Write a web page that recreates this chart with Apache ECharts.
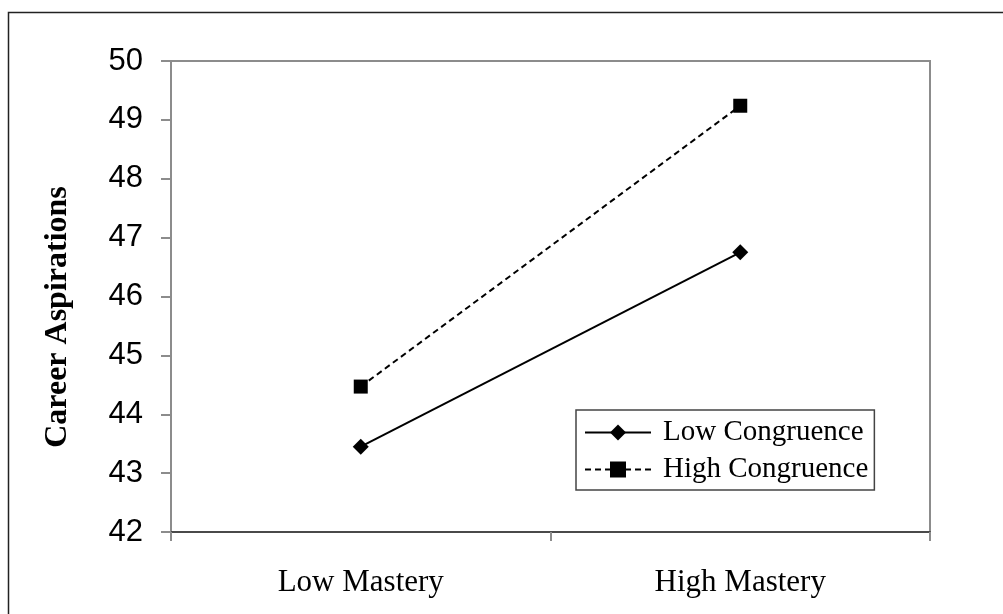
<!DOCTYPE html>
<html>
<head>
<meta charset="utf-8">
<script src="https://cdn.jsdelivr.net/npm/echarts@6/dist/echarts.min.js"></script>
<style>
  html, body { margin: 0; padding: 0; background: #fff; }
  #chart { width: 1003px; height: 614px; }
</style>
</head>
<body>
<div id="chart"></div>
<script>
// Mastery conditions on the x axis
const categories = ['Low Mastery', 'High Mastery'];
// Mean career aspirations for each congruence group
const lowCongruence = [43.45, 46.75];
const highCongruence = [44.47, 49.24];
const seriesNames = ['Low Congruence', 'High Congruence'];
const yTitle = 'Career Aspirations';

const serif = '"Liberation Serif", "Times New Roman", serif';
const sans = '"Liberation Sans", Arial, sans-serif';

const chart = echarts.init(document.getElementById('chart'), null, { renderer: 'canvas' });

chart.setOption({
  animation: false,
  backgroundColor: '#fff',
  graphic: [
    {
      type: 'rect',
      shape: { x: 8.5, y: 12.5, width: 1100, height: 700 },
      style: { fill: 'none', stroke: '#222', lineWidth: 1.5 },
      silent: true,
      z: -1
    },
    {
      type: 'text',
      x: 58,
      y: 317,
      rotation: Math.PI / 2,
      style: {
        text: yTitle,
        font: 'bold 32px ' + serif,
        fill: '#000',
        textAlign: 'center',
        textVerticalAlign: 'middle'
      }
    }
  ],
  grid: {
    left: 171, top: 61, right: 73, bottom: 82,
    show: true,
    borderColor: '#8c8c8c',
    borderWidth: 2,
    backgroundColor: 'transparent'
  },
  legend: {
    orient: 'vertical',
    left: 576,
    top: 410,
    data: seriesNames,
    itemWidth: 66,
    itemHeight: 20,
    itemGap: 8,
    padding: [8, 6, 6, 8],
    backgroundColor: '#fff',
    borderColor: '#444',
    borderWidth: 1.5,
    borderRadius: 0,
    textStyle: { fontFamily: serif, fontSize: 29, color: '#000', padding: [0, 0, 0, 7] }
  },
  xAxis: {
    type: 'category',
    data: categories,
    boundaryGap: true,
    axisLine: { lineStyle: { color: '#4a4a4a', width: 2 } },
    axisTick: { show: true, length: 9, inside: false, alignWithLabel: false, lineStyle: { color: '#8c8c8c', width: 2 } },
    axisLabel: { fontFamily: serif, fontSize: 31, color: '#000', margin: 35 },
    splitLine: { show: false }
  },
  yAxis: {
    type: 'value',
    min: 42,
    max: 50,
    interval: 1,
    axisLine: { show: true, lineStyle: { color: '#8c8c8c', width: 2 } },
    axisTick: { show: true, length: 10, lineStyle: { color: '#8c8c8c', width: 2 } },
    axisLabel: { fontFamily: sans, fontSize: 31, color: '#000', margin: 28 },
    splitLine: { show: false }
  },
  series: [
    {
      name: seriesNames[0],
      type: 'line',
      data: lowCongruence,
      symbol: 'diamond',
      symbolSize: 16,
      lineStyle: { color: '#000', width: 2, type: 'solid' },
      itemStyle: { color: '#000' }
    },
    {
      name: seriesNames[1],
      type: 'line',
      data: highCongruence,
      symbol: 'rect',
      symbolSize: 14,
      lineStyle: { color: '#000', width: 2, type: [6, 4] },
      itemStyle: { color: '#000' }
    }
  ]
});
</script>
</body>
</html>
